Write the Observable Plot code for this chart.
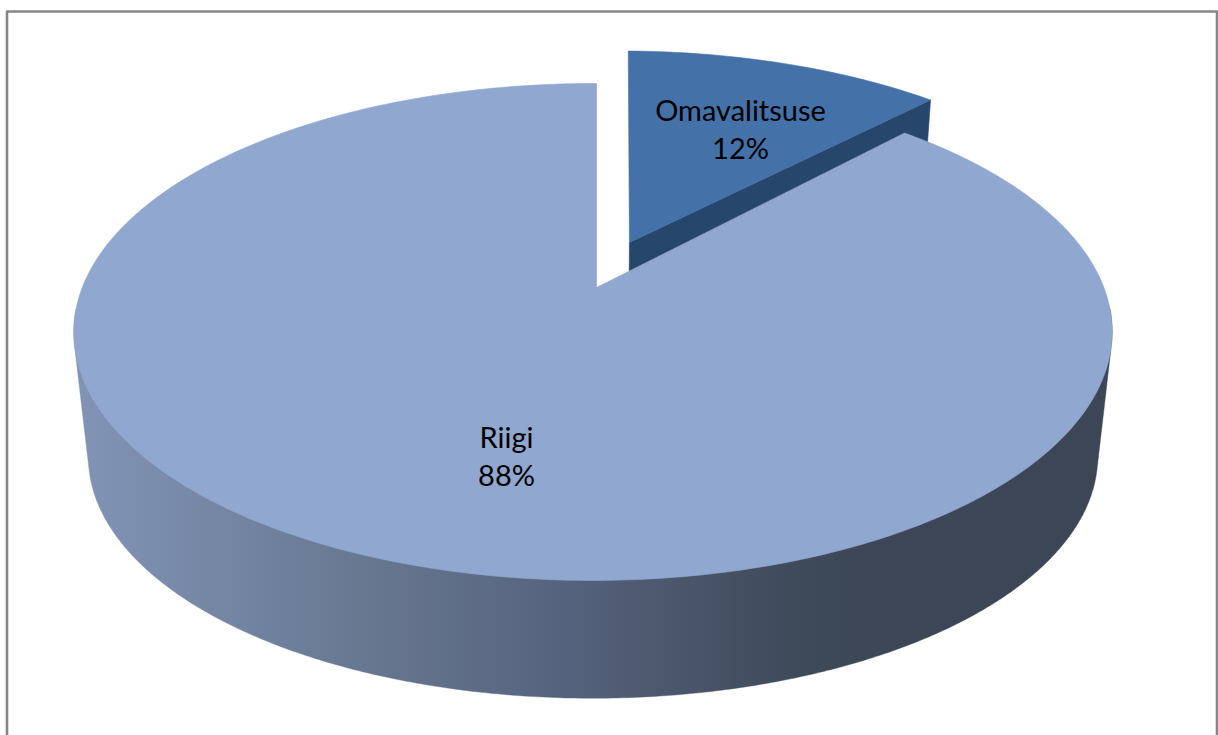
<!DOCTYPE html>
<html>
<head>
<meta charset="utf-8">
<style>
html,body{margin:0;padding:0;background:#fff;overflow:hidden}
svg{display:block}
</style>
<script src="https://cdn.jsdelivr.net/npm/d3@7"></script>
<script src="https://cdn.jsdelivr.net/npm/@observablehq/plot@0.6"></script>
</head>
<body>
<script>
// Data
const categories = ["Omavalitsuse", "Riigi"];
const shares = [12, 88];

// Wall shading
const wallShadeX = [85, 290, 400, 550, 700, 800, 900];
const wallShadeColor = ["#8193b5", "#6e7f9b", "#65748c", "#566480", "#485467", "#3e495a", "#3c4656"];

// Perspective view of the disc
const W = 1218, H = 735;
const view = {cx: 596, cy: 287, fx: 510.8, fy: 240.5, kY: 0.179, kX: 0.0067,
              wallScale: 0.972, wallDrop: 126, explode: 0.205, explodeAngle: 19,
              wedgeStartTurn: 0.5, wedgeEndTurn: 1};
const colors = {top: "#90a7cf", wedge: "#4471a8", wedgeSide: "#26466c", frame: "#868686"};
const labelPos = [{x: 740, y: 127}, {x: 506, y: 454}];

const rad = d => d * Math.PI / 180;
function project(X, Y, low = false) {
  const w = 1 + view.kY * Y + view.kX * X;
  const px = view.fx * X / w, py = -view.fy * Y / w;
  return low
    ? {x: view.cx + view.wallScale * px, y: view.cy + view.wallDrop + view.wallScale * py}
    : {x: view.cx + px, y: view.cy + py};
}
const rim = (deg, ox = 0, oy = 0, low = false) =>
  project(ox + Math.sin(rad(deg)), oy + Math.cos(rad(deg)), low);

const wedgeAngle = shares[0] / d3.sum(shares) * 360;
const arcAngles = (a, b, n) => d3.range(n + 1).map(i => a + (b - a) * i / n);

// Exploded slice
const ox = view.explode * Math.sin(rad(view.explodeAngle));
const oy = view.explode * Math.cos(rad(view.explodeAngle));
const wedgeEnd = wedgeAngle + view.wedgeEndTurn;
const wedgeTop = [project(ox, oy), ...arcAngles(view.wedgeStartTurn, wedgeEnd, 40).map(a => rim(a, ox, oy)), project(ox, oy)];
const wedgeSide = [project(ox, oy), rim(wedgeEnd, ox, oy), rim(wedgeEnd, ox, oy, true), project(ox, oy, true), project(ox, oy)];

// Main slice
const mainTop = [project(0, 0), ...arcAngles(wedgeAngle, 360, 400).map(a => rim(a)), project(0, 0)];
const frontAngles = arcAngles(95, 265, 340);
const hull = d3.polygonHull(frontAngles.flatMap(a => [rim(a), rim(a, 0, 0, true)]).map(p => [p.x, p.y]));
const wall = [...hull, hull[0]].map(([x, y]) => ({x, y}));

const frameLine = [{x: 6.5, y: H + 5}, {x: 6.5, y: 11}, {x: 1216.5, y: 11}, {x: 1216.5, y: H + 5}];
const labels = categories.map((c, i) => ({...labelPos[i], text: `${c}\n${shares[i]}%`}));

const poly = (pts, fill, strokeWidth = 0.6) => Plot.line(pts, {x: "x", y: "y", fill, stroke: fill, strokeWidth, curve: "linear"});

// Horizontal shading of the wall, placed through the x scale
const wallGradient = (index, {x}) => {
  const defs = d3.create("svg:defs");
  const g = defs.append("linearGradient").attr("id", "wallShade").attr("gradientUnits", "userSpaceOnUse")
    .attr("x1", x(wallShadeX[0])).attr("x2", x(wallShadeX[wallShadeX.length - 1])).attr("y1", 0).attr("y2", 0);
  wallShadeX.forEach((v, i) => g.append("stop")
    .attr("offset", (v - wallShadeX[0]) / (wallShadeX[wallShadeX.length - 1] - wallShadeX[0]))
    .attr("stop-color", wallShadeColor[i]));
  return defs.node();
};

const chart = Plot.plot({
  width: W, height: H,
  margin: 0,
  x: {domain: [0, W], range: [0, W], axis: null},
  y: {domain: [0, H], range: [0, H], axis: null},
  style: {background: "#fff", overflow: "hidden"},
  marks: [
    wallGradient,
    Plot.line(frameLine, {x: "x", y: "y", stroke: colors.frame, strokeWidth: 2.6, curve: "linear"}),
    poly(wedgeSide, colors.wedgeSide),
    poly(wedgeTop, colors.wedge),
    poly(wall, "url(#wallShade)", 0.4),
    poly(mainTop, colors.top),
    Plot.text(labels, {x: "x", y: "y", text: "text", fontFamily: "Lato, 'Open Sans', sans-serif", fontSize: 29, lineHeight: 1.31, fill: "#000"})
  ]
});
document.body.appendChild(chart);
</script>
</body>
</html>
